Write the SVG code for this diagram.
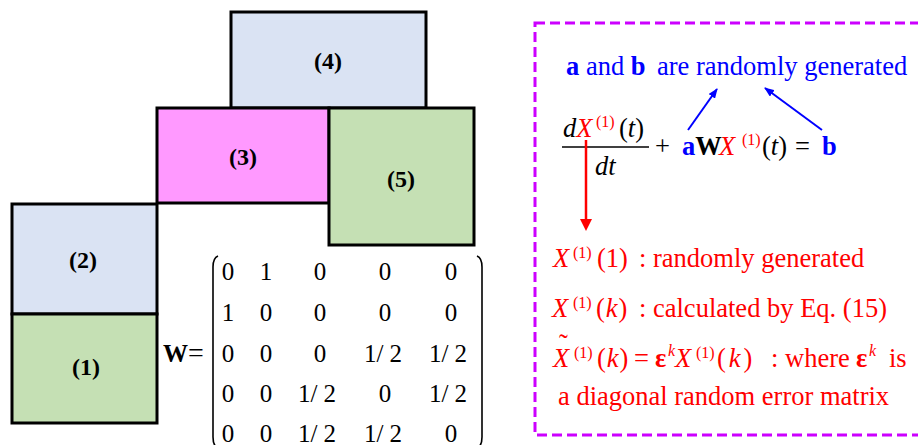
<svg xmlns="http://www.w3.org/2000/svg" width="918" height="445" viewBox="0 0 918 445">
<style>
.box{stroke:#000;stroke-width:3}
.lbl{font-family:"Liberation Serif","Times New Roman",serif;font-weight:bold;font-size:24px;text-anchor:middle;fill:#000}
.t{font-family:"Liberation Serif","Times New Roman",serif;font-size:26.5px}
.m{font-family:"Liberation Serif","Times New Roman",serif;font-size:25px;text-anchor:middle;fill:#000}
.i{font-style:italic}
.b{font-weight:bold}
.sup{font-size:16px}
.red{fill:#FF0000}
.blue{fill:#0000FF}
.blk{fill:#000}
</style>
<defs>
<marker id="ab" markerWidth="10" markerHeight="8" refX="9" refY="4" orient="auto" markerUnits="userSpaceOnUse">
<path d="M0,0 L10,4 L0,8 z" fill="#0000FF"/>
</marker>
</defs>
<rect width="918" height="445" fill="#fff"/>
<g id="node4"><rect class="box" x="231" y="12" width="195" height="96" fill="#DAE3F3"/><text class="lbl" x="328" y="69">(4)</text></g>
<g id="node3"><rect class="box" x="157" y="108" width="172" height="95" fill="#FF99FF"/><text class="lbl" x="243" y="165">(3)</text></g>
<g id="node5"><rect class="box" x="329" y="108" width="145" height="137" fill="#C5E0B4"/><text class="lbl" x="401" y="187">(5)</text></g>
<g id="node2"><rect class="box" x="12" y="204" width="145" height="110" fill="#DAE3F3"/><text class="lbl" x="83" y="268">(2)</text></g>
<g id="node1"><rect class="box" x="12" y="314" width="145" height="109" fill="#C5E0B4"/><text class="lbl" x="86" y="375">(1)</text></g>

<g id="matrix">
<text x="163" y="362" font-family="Liberation Serif, serif" font-size="25" font-weight="bold">W<tspan font-weight="normal" font-size="28">=</tspan></text>
<path d="M218,256 Q213,258 213,267 L213,437 Q213,446 218,448" fill="none" stroke="#000" stroke-width="1.6"/>
<path d="M477,256 Q482,258 482,267 L482,437 Q482,446 477,448" fill="none" stroke="#000" stroke-width="1.6"/>
<text class="m" x="228" y="280">0</text><text class="m" x="266" y="280">1</text><text class="m" x="320" y="280">0</text><text class="m" x="385" y="280">0</text><text class="m" x="451" y="280">0</text>
<text class="m" x="228" y="321">1</text><text class="m" x="266" y="321">0</text><text class="m" x="320" y="321">0</text><text class="m" x="385" y="321">0</text><text class="m" x="451" y="321">0</text>
<text class="m" x="228" y="362">0</text><text class="m" x="266" y="362">0</text><text class="m" x="320" y="362">0</text><text class="m" x="383" y="362">1/ 2</text><text class="m" x="448" y="362">1/ 2</text>
<text class="m" x="228" y="402">0</text><text class="m" x="266" y="402">0</text><text class="m" x="317" y="402">1/ 2</text><text class="m" x="385" y="402">0</text><text class="m" x="448" y="402">1/ 2</text>
<text class="m" x="228" y="442">0</text><text class="m" x="266" y="442">0</text><text class="m" x="317" y="442">1/ 2</text><text class="m" x="383" y="442">1/ 2</text><text class="m" x="451" y="442">0</text>
</g>

<g id="panel">
<rect x="535" y="23" width="400" height="412" fill="none" stroke="#CC00FF" stroke-width="3" stroke-dasharray="10 5"/>
<text class="t blue" x="566" y="75"><tspan class="b">a</tspan> and <tspan class="b">b</tspan><tspan x="657">are randomly generated</tspan></text>

<g id="equation">
<text class="t i" x="563" y="137"><tspan class="blk">d</tspan><tspan class="red">X</tspan></text>
<text class="t sup red" x="596" y="127">(1)</text>
<text class="t blk" x="619" y="137">(<tspan class="i">t</tspan>)</text>
<line x1="562" y1="147" x2="649" y2="147" stroke="#000" stroke-width="1.3"/>
<text class="t i blk" x="595" y="175">dt</text>
<text class="t blk" x="655" y="155">+</text>
<text class="t b" x="682" y="155"><tspan class="blue">a</tspan><tspan class="blk">W</tspan></text>
<text class="t i red" x="719" y="155">X</text>
<text class="t sup red" x="742" y="145">(1)</text>
<text class="t blk" x="762" y="155">(<tspan class="i">t</tspan>)</text>
<text class="t blk" x="795" y="155" font-size="30">=</text>
<text class="t b blue" x="822" y="155">b</text>
</g>

<g id="notes">
<text class="t i red" x="553" y="267">X</text>
<text class="t sup red" x="573" y="258">(1)</text>
<text class="t red" x="597" y="267">(1)</text>
<text class="t red" x="639" y="267">: randomly generated</text>

<text class="t i red" x="552" y="317">X</text>
<text class="t sup red" x="573" y="308">(1)</text>
<text class="t red" x="596" y="317">(<tspan class="i" dx="1">k</tspan><tspan dx="1">)</tspan></text>
<text class="t red" x="639" y="317">: calculated by Eq. (15)</text>

<text class="t i red" x="553" y="367">X</text>
<text class="t red" x="559" y="353" font-size="22">˜</text>
<text class="t sup red" x="574" y="358">(1)</text>
<text class="t red" x="597" y="367">(<tspan class="i" dx="1">k</tspan><tspan dx="1">)</tspan></text>
<text class="t red" x="634" y="367" font-size="30">=</text>
<text class="t b red" x="655" y="367">ε</text>
<text class="t sup i red" x="668" y="356">k</text>
<text class="t i red" x="675" y="367">X</text>
<text class="t sup red" x="696" y="358">(1)</text>
<text class="t red" x="717" y="367">(<tspan class="i" dx="3">k</tspan><tspan dx="3">)</tspan></text>
<text class="t red" x="771" y="367">: where</text>
<text class="t b red" x="856" y="367">ε</text>
<text class="t sup i red" x="869" y="356">k</text>
<text class="t red" x="889" y="367">is</text>

<text class="t red" x="558" y="405">a diagonal random error matrix</text>
</g>
</g>

<g id="connectors">
<line x1="688" y1="130" x2="717" y2="89" stroke="#0000FF" stroke-width="2" marker-end="url(#ab)"/>
<line x1="822" y1="130" x2="765" y2="88" stroke="#0000FF" stroke-width="2" marker-end="url(#ab)"/>
<line x1="586" y1="140" x2="586" y2="220" stroke="#FF0000" stroke-width="2.5"/>
<polygon points="580,219 592,219 586,231" fill="#FF0000"/>
</g>
</svg>
